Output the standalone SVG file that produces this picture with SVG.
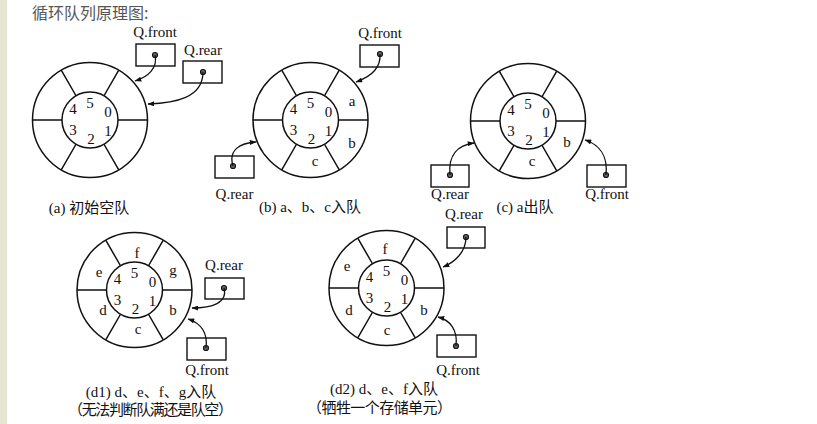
<svg xmlns="http://www.w3.org/2000/svg" xmlns:xlink="http://www.w3.org/1999/xlink" width="817" height="424" viewBox="0 0 817 424">
<style>
.ln{fill:none;stroke:#111;stroke-width:1.5}
.box{fill:none;stroke:#111;stroke-width:1.4}
.dot{fill:#666;stroke:#111;stroke-width:1.2}
.t{font-family:"Liberation Serif","Noto Sans CJK SC",serif;font-size:15px;fill:#111}
.d{font-family:"Liberation Serif",serif;font-size:15px;fill:#111;text-anchor:middle}
.m{text-anchor:middle}
.cap{font-family:"Liberation Serif","Noto Sans CJK SC",serif;font-size:15px;fill:#111;text-anchor:middle}
.arr{fill:none;stroke:#111;stroke-width:1.3;marker-end:url(#ah)}
</style>
<defs>
<marker id="ah" viewBox="0 0 8 6" refX="7.5" refY="3" markerWidth="7" markerHeight="5" markerUnits="userSpaceOnUse" orient="auto"><path d="M0,0 L8,3 L0,6 z" fill="#111"/></marker>
<g id="wheel">
<circle class="ln" r="57.5"/>
<circle class="ln" r="28"/>
<path class="ln" d="M28,0 L57.5,0 M-28,0 L-57.5,0 M14,-24.25 L28.75,-49.8 M-14,-24.25 L-28.75,-49.8 M14,24.25 L28.75,49.8 M-14,24.25 L-28.75,49.8"/>
<text class="d" x="0" y="-12">5</text>
<text class="d" x="18" y="-3">0</text>
<text class="d" x="-17" y="-6">4</text>
<text class="d" x="-17" y="15">3</text>
<text class="d" x="18" y="16">1</text>
<text class="d" x="1" y="24">2</text>
</g>
</defs>
<rect x="0" y="0" width="817" height="424" fill="#fff"/>
<rect x="0" y="0" width="7" height="424" fill="#e4e6d2"/>
<text x="32" y="19" font-family="'Noto Sans CJK SC',sans-serif" font-size="16" fill="#555">循环队列原理图:</text>

<g id="panel-a">
<use xlink:href="#wheel" x="90" y="120"/>
<rect class="box" x="136" y="44" width="39" height="22"/>
<circle class="dot" cx="155" cy="55" r="2.5"/>
<text class="t m" x="155" y="37">Q.front</text>
<rect class="box" x="183" y="61" width="39" height="22"/>
<circle class="dot" cx="203" cy="72" r="2.5"/>
<text class="t m" x="203" y="55">Q.rear</text>
<text class="cap" x="89" y="213">(a) 初始空队</text>
</g>

<g id="panel-b">
<use xlink:href="#wheel" x="310.5" y="120"/>
<text class="t m" x="352" y="106">a</text>
<text class="t m" x="352" y="148">b</text>
<text class="t m" x="315" y="166">c</text>
<rect class="box" x="360" y="45" width="39" height="22"/>
<circle class="dot" cx="380" cy="54" r="2.5"/>
<text class="t m" x="380" y="38">Q.front</text>
<rect class="box" x="215" y="156" width="39" height="22"/>
<circle class="dot" cx="233" cy="166" r="2.5"/>
<text class="t m" x="234.5" y="199">Q.rear</text>
<text class="cap" x="310" y="212">(b) a、b、c入队</text>
</g>

<g id="panel-c">
<use xlink:href="#wheel" x="528" y="121"/>
<text class="t m" x="567" y="147">b</text>
<text class="t m" x="532" y="166">c</text>
<rect class="box" x="431" y="165" width="38" height="22"/>
<circle class="dot" cx="450" cy="175" r="2.5"/>
<text class="t m" x="450" y="199">Q.rear</text>
<rect class="box" x="587" y="165" width="39" height="22"/>
<circle class="dot" cx="606" cy="175" r="2.5"/>
<text class="t m" x="607" y="199">Q.front</text>
<text class="cap" x="525" y="212">(c) a出队</text>
</g>

<g id="panel-d1">
<use xlink:href="#wheel" x="134.5" y="290"/>
<text class="t m" x="137" y="258">f</text>
<text class="t m" x="99" y="277">e</text>
<text class="t m" x="173" y="275">g</text>
<text class="t m" x="103" y="315">d</text>
<text class="t m" x="173" y="315">b</text>
<text class="t m" x="138" y="334">c</text>
<text class="t m" x="224" y="270">Q.rear</text>
<rect class="box" x="205" y="278" width="39" height="21"/>
<circle class="dot" cx="224" cy="288" r="2.5"/>
<rect class="box" x="187" y="338" width="39" height="22"/>
<circle class="dot" cx="206" cy="348" r="2.5"/>
<text class="t m" x="207" y="375">Q.front</text>
<text class="cap" x="151" y="397">(d1) d、e、f、g入队</text>
<text class="cap" x="150.5" y="415" textLength="165" lengthAdjust="spacing">（无法判断队满还是队空）</text>
</g>

<g id="panel-d2">
<use xlink:href="#wheel" x="386.5" y="288"/>
<text class="t m" x="385" y="254">f</text>
<text class="t m" x="347" y="271">e</text>
<text class="t m" x="349" y="315">d</text>
<text class="t m" x="424" y="315">b</text>
<text class="t m" x="387" y="335">c</text>
<text class="t m" x="464" y="219">Q.rear</text>
<rect class="box" x="447" y="227" width="38" height="21"/>
<circle class="dot" cx="466" cy="237" r="2.5"/>
<rect class="box" x="437" y="335" width="39" height="22"/>
<circle class="dot" cx="456" cy="346" r="2.5"/>
<text class="t m" x="458" y="375">Q.front</text>
<text class="cap" x="384" y="394">(d2) d、e、f入队</text>
<text class="cap" x="379.5" y="413" textLength="145" lengthAdjust="spacing">（牺牲一个存储单元）</text>
</g>

<g id="connectors">
<path class="arr" d="M155,55 C158,68 148,77 135,81"/>
<path class="arr" d="M203,72 C203,98 175,103 148,104"/>
<path class="arr" d="M380,54 C381,68 370,77 356,82"/>
<path class="arr" d="M233,166 C228,150 240,143 256,142"/>
<path class="arr" d="M450,175 C448,155 458,145 474,143"/>
<path class="arr" d="M606,175 C608,155 600,145 585,140"/>
<path class="arr" d="M224,288 C228,303 212,308 192,308"/>
<path class="arr" d="M206,348 C208,332 200,323 188,319"/>
<path class="arr" d="M466,237 C466,252 455,262 443,267"/>
<path class="arr" d="M456,346 C458,330 450,320 438,317"/>
</g>
</svg>
